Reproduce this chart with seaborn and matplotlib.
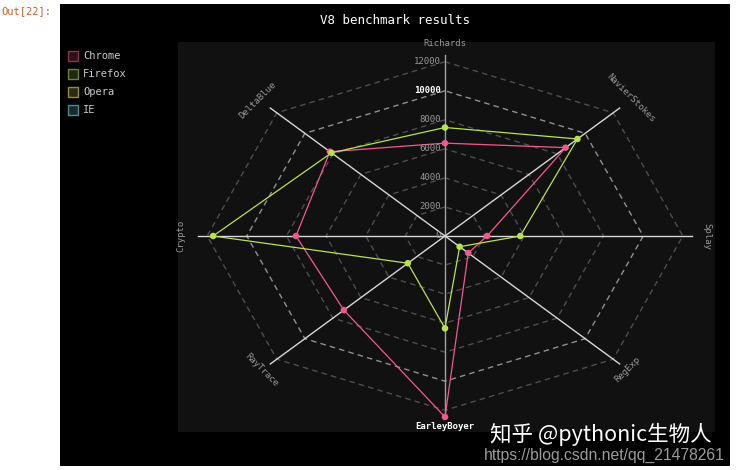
import numpy as np
import pandas as pd
import matplotlib
matplotlib.use("Agg")
import matplotlib.pyplot as plt
import seaborn as sns
from matplotlib.patches import Rectangle

# ---------------- data ----------------
title = "V8 benchmark results"
axis_labels = ['Richards', 'DeltaBlue', 'Crypto', 'RayTrace',
               'EarleyBoyer', 'RegExp', 'Splay', 'NavierStokes']
legend_names = ['Chrome', 'Firefox', 'Opera', 'IE']
chrome = [6395, 8212, 7520, 7218, 12464, 1660, 2123, 8607]
firefox = [7473, 8099, 11700, 2651, 6361, 1044, 3797, 9450]
grid_levels = [2000, 4000, 6000, 8000, 10000, 12000]
tick_values = [0, 2000, 4000, 6000, 8000, 10000, 12000]
tick_labels = ['0', '2000', '4000', '6000', '8000', '10000', '12000']

series_colors = {'Chrome': '#f5588f', 'Firefox': '#b6e354',
                 'Opera': '#feed6c', 'IE': '#8cedff'}

# ---------------- geometry ----------------
n = len(axis_labels)
angles = np.arange(n) * 2 * np.pi / n
ux = -np.sin(angles)
uy = np.cos(angles)

rows = []
for name, vals in [('Chrome', chrome), ('Firefox', firefox)]:
    for k in list(range(n)) + [0]:
        rows.append({'series': name, 'axis': axis_labels[k], 'order': len(rows),
                     'value': vals[k], 'x': vals[k] * ux[k], 'y': vals[k] * uy[k]})
df = pd.DataFrame(rows)
pts = df.drop_duplicates(subset=['series', 'axis'])

vmax = max(max(chrome), max(firefox))

# ---------------- figure ----------------
W, H = 736, 470
fig = plt.figure(figsize=(W / 100, H / 100), dpi=100, facecolor='white')
fig.patches.append(Rectangle((60 / W, (H - 466) / H), 670 / W, 462 / H,
                             transform=fig.transFigure, facecolor='black',
                             edgecolor='none', zorder=-10))

ax = fig.add_axes([178 / W, (H - 432) / H, 537 / W, 390 / H])
ax.set_zorder(1)
ax.set_facecolor('#111111')
for s in ax.spines.values():
    s.set_visible(False)
ax.set_xticks([])
ax.set_yticks([])
ax.set_xlim(-267 / 19.82 * 1000, 270 / 19.82 * 1000)
ax.set_ylim(-196 / 14.52 * 1000, 194 / 14.52 * 1000)

# grid octagons
for lv in grid_levels:
    gx = np.append(lv * ux, lv * ux[0])
    gy = np.append(lv * uy, lv * uy[0])
    col = '#909090' if lv == 10000 else '#4e4e4e'
    ax.plot(gx, gy, color=col, lw=1.0, dashes=(4, 3), zorder=1)

# spokes
for k in range(n):
    col = '#a0a0a0' if k in (0, 4) else '#d8d8d8'
    ax.plot([0, vmax * ux[k]], [0, vmax * uy[k]], color=col, lw=1.0, zorder=2)

# data
sns.lineplot(data=df, x='x', y='y', hue='series', sort=False, estimator=None,
             palette=series_colors, lw=0.9, legend=False, ax=ax, zorder=3)
sns.scatterplot(data=pts, x='x', y='y', hue='series', palette=series_colors,
                s=22, linewidth=0, legend=False, ax=ax, zorder=4)
ax.set_xlabel('')
ax.set_ylabel('')

mono = 'DejaVu Sans Mono'

# radial tick labels
for v, t in zip(tick_values, tick_labels):
    major = (v == 10000)
    ax.annotate(t, xy=(0, v), xytext=(-3, 0), textcoords='offset points',
                ha='right', va='center', fontsize=6.5, family=mono,
                color='#ffffff' if major else '#9a9a9a',
                fontweight='bold' if major else 'normal', zorder=5)

# axis labels
offsets = [(0, 8), (-9, 6), (-12, 0), (-6, -4), (0, -7), (6, -4), (11, 0), (8, 7)]
rots = [0, 45, 90, -45, 0, 45, -90, -45]
for k, lab in enumerate(axis_labels):
    major = (k == 4)
    ax.annotate(lab, xy=(vmax * ux[k], vmax * uy[k]), xytext=offsets[k],
                textcoords='offset points', ha='center', va='center',
                rotation=rots[k], fontsize=6.5, family=mono,
                color='#ffffff' if major else '#9a9a9a',
                fontweight='bold' if major else 'normal', annotation_clip=False)

# title
fig.text(395 / W, 1 - 21 / H, title, ha='center', va='center', color='white',
         fontsize=9, family=mono)

# legend
for i, name in enumerate(legend_names):
    c = series_colors[name]
    ytop = 51 + 18 * i
    fig.patches.append(Rectangle((68 / W, 1 - (ytop + 10) / H), 10 / W, 10 / H,
                                 transform=fig.transFigure,
                                 facecolor=matplotlib.colors.to_rgba(c, 0.18),
                                 edgecolor=matplotlib.colors.to_rgba(c, 0.55),
                                 lw=1.0, zorder=3))
    fig.text(83 / W, 1 - (ytop + 5) / H, name, ha='left', va='center',
             color='#cccccc', fontsize=7.5, family=mono)

# notebook prompt
fig.text(1 / W, 1 - 11 / H, 'Out[22]:', ha='left', va='center',
         color='#c8602a', fontsize=7.5, family=mono)

# watermark
fig.text(490 / W, 1 - 434 / H, '知乎 @pythonic生物人', ha='left', va='center',
         color='white', fontsize=15.5, family=['Noto Sans CJK SC', 'DejaVu Sans'],
         zorder=10)
fig.text(484 / W, 1 - 455 / H, 'https://blog.csdn.net/qq_21478261', ha='left',
         va='center', color='#d0d0d0', alpha=0.75, fontsize=11.3,
         family='Liberation Sans', zorder=10)

fig.savefig('out.png', dpi=100, facecolor='white')
